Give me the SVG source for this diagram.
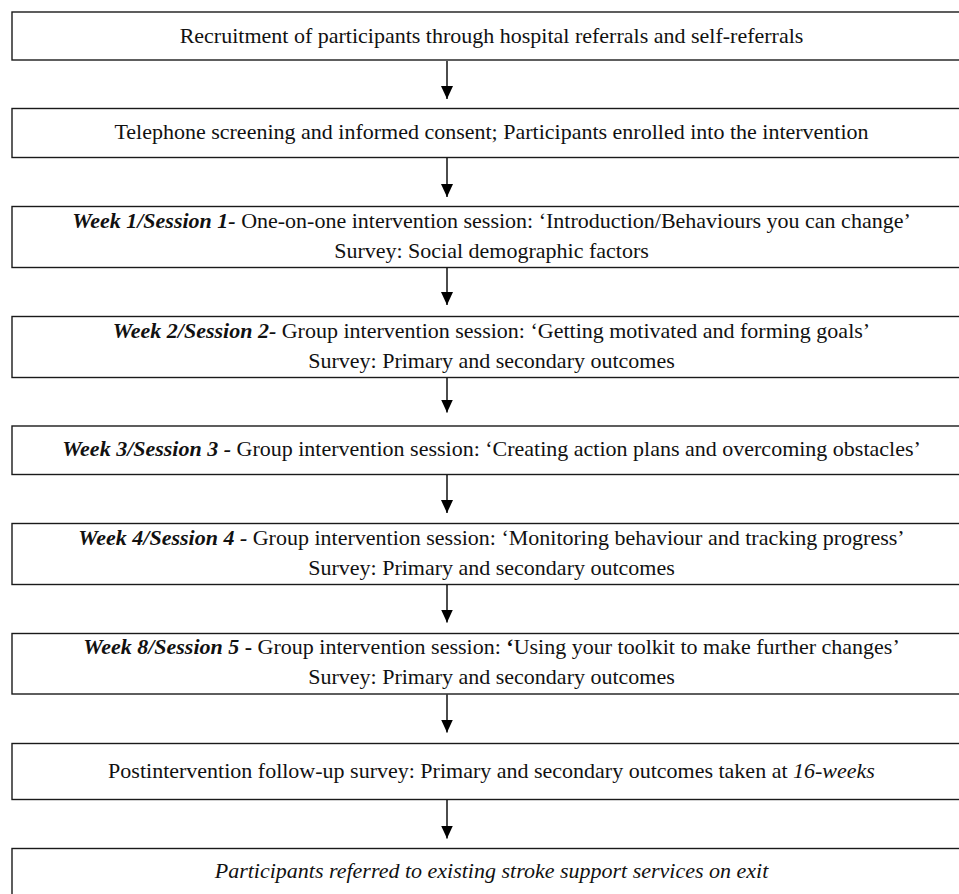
<svg xmlns="http://www.w3.org/2000/svg" width="959" height="894" viewBox="0 0 959 894">
<defs>
<style>
.box{fill:#fff;stroke:#1a1a1a;stroke-width:1.4}
.t{font-family:"Liberation Serif","Times New Roman",serif;font-size:22px;fill:#111;text-anchor:middle}
.bi{font-weight:bold;font-style:italic}
.b{font-weight:bold}
.i{font-style:italic}
.conn{stroke:#000;stroke-width:1.4;fill:none;marker-end:url(#ah)}
</style>
<marker id="ah" markerUnits="userSpaceOnUse" markerWidth="13" markerHeight="12" refX="13" refY="6" orient="auto">
<path d="M0,0 L13,6 L0,12 z" fill="#000"/>
</marker>
</defs>
<rect width="959" height="894" fill="#fff"/>
<g id="n1"><rect class="box" x="12" y="12" width="964" height="48"/><text class="t" x="491.5" y="42.5">Recruitment of participants through hospital referrals and self-referrals</text></g>
<g id="n2"><rect class="box" x="12" y="108.5" width="964" height="49"/><text class="t" x="491.5" y="138.5">Telephone screening and informed consent; Participants enrolled into the intervention</text></g>
<g id="n3"><rect class="box" x="12" y="206.5" width="964" height="61"/><text class="t" x="491.5" y="227.5"><tspan class="bi">Week 1/Session 1-</tspan> One-on-one intervention session: ‘Introduction/Behaviours you can change’</text><text class="t" x="491.5" y="258">Survey: Social demographic factors</text></g>
<g id="n4"><rect class="box" x="12" y="316.5" width="964" height="61"/><text class="t" x="491.5" y="337.5"><tspan class="bi">Week 2/Session 2-</tspan> Group intervention session: ‘Getting motivated and forming goals’</text><text class="t" x="491.5" y="367.5">Survey: Primary and secondary outcomes</text></g>
<g id="n5"><rect class="box" x="12" y="426" width="964" height="48.5"/><text class="t" x="491.5" y="455.5"><tspan class="bi">Week 3/Session 3 -</tspan> Group intervention session: ‘Creating action plans and overcoming obstacles’</text></g>
<g id="n6"><rect class="box" x="12" y="523.5" width="964" height="61"/><text class="t" x="491.5" y="544.5"><tspan class="bi">Week 4/Session 4 -</tspan> Group intervention session: ‘Monitoring behaviour and tracking progress’</text><text class="t" x="491.5" y="574.5">Survey: Primary and secondary outcomes</text></g>
<g id="n7"><rect class="box" x="12" y="633.5" width="964" height="60.5"/><text class="t" x="491.5" y="653.5"><tspan class="bi">Week 8/Session 5</tspan><tspan class="b"> -</tspan> Group intervention session: <tspan class="b">‘</tspan>Using your toolkit to make further changes’</text><text class="t" x="491.5" y="684">Survey: Primary and secondary outcomes</text></g>
<g id="n8"><rect class="box" x="12" y="743.5" width="964" height="56"/><text class="t" x="491.5" y="777.5">Postintervention follow-up survey: Primary and secondary outcomes taken at <tspan class="i">16-weeks</tspan></text></g>
<g id="n9"><rect class="box" x="12" y="848.5" width="964" height="60"/><text class="t i" x="491.5" y="877.5">Participants referred to existing stroke support services on exit</text></g>
<g id="connectors">
<line class="conn" x1="447" y1="61" x2="447" y2="99"/>
<line class="conn" x1="447" y1="158" x2="447" y2="197"/>
<line class="conn" x1="447" y1="268" x2="447" y2="305"/>
<line class="conn" x1="447" y1="378" x2="447" y2="412.5"/>
<line class="conn" x1="447" y1="475" x2="447" y2="513"/>
<line class="conn" x1="447" y1="585" x2="447" y2="622.5"/>
<line class="conn" x1="447" y1="694.5" x2="447" y2="732.5"/>
<line class="conn" x1="447" y1="800" x2="447" y2="838.5"/>
</g>
</svg>
